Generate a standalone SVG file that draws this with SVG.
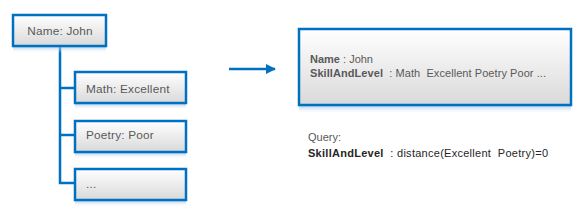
<svg xmlns="http://www.w3.org/2000/svg" width="584" height="218" viewBox="0 0 584 218">
<defs>
<linearGradient id="fill" x1="0" y1="0" x2="0" y2="1">
<stop offset="0" stop-color="#ffffff"/>
<stop offset="1" stop-color="#d9d9d9"/>
</linearGradient>
<linearGradient id="refl" x1="0" y1="0" x2="0" y2="1">
<stop offset="0" stop-color="#9cc3e6" stop-opacity="0.7"/>
<stop offset="1" stop-color="#ffffff" stop-opacity="0"/>
</linearGradient>
<marker id="arr" viewBox="0 0 10 10" refX="9" refY="5" markerWidth="4" markerHeight="4" orient="auto">
<path d="M0,0 L10,5 L0,10 z" fill="#0070c0"/>
</marker>
<style>
.box{fill:url(#fill);stroke:#0070c0;stroke-width:2.5}
.refl{fill:url(#refl)}
.t{font-family:"Liberation Sans",Arial,sans-serif;font-size:11px;fill:#595959;white-space:pre}
.l{font-size:11.8px;letter-spacing:0.2px}
.b{font-weight:bold}
.conn{fill:none;stroke:#0070c0;stroke-width:2.5}
</style>
</defs>
<g id="connectors">
<path class="conn" d="M60,46 V183 H75"/>
<path class="conn" d="M60,88 H75"/>
<path class="conn" d="M60,135 H75"/>
<line class="conn" x1="229" y1="69" x2="275" y2="69" marker-end="url(#arr)"/>
</g>
<g id="name">
<rect class="refl" x="13" y="47" width="93" height="6"/>
<rect class="box" x="13" y="15" width="93" height="31"/>
<text class="t l" x="60" y="35" text-anchor="middle">Name: John</text>
</g>
<g id="math">
<rect class="refl" x="75" y="104" width="111" height="6"/>
<rect class="box" x="75" y="72" width="111" height="31"/>
<text class="t l" x="86" y="93">Math: Excellent</text>
</g>
<g id="poetry">
<rect class="refl" x="75" y="153" width="111" height="6"/>
<rect class="box" x="75" y="121" width="111" height="31"/>
<text class="t l" x="86" y="139">Poetry: Poor</text>
</g>
<g id="more">
<rect class="refl" x="75" y="201" width="111" height="6"/>
<rect class="box" x="75" y="169" width="111" height="31"/>
<text class="t l" x="86" y="188">...</text>
</g>
<g id="record">
<rect class="refl" x="299" y="106" width="272" height="8"/>
<rect class="box" x="299" y="29" width="272" height="76"/>
<text class="t" x="310" y="63"><tspan class="b">Name</tspan> : John</text>
<text class="t" x="310" y="77" textLength="236" lengthAdjust="spacing"><tspan class="b">SkillAndLevel</tspan>&#160; : Math&#160; Excellent Poetry Poor ...</text>
</g>
<g id="query">
<text class="t" x="308" y="141">Query:</text>
<text class="t" x="308" y="157" style="fill:#262626" textLength="240" lengthAdjust="spacing"><tspan class="b">SkillAndLevel</tspan>&#160; : distance(Excellent&#160; Poetry)=0</text>
</g>
</svg>
